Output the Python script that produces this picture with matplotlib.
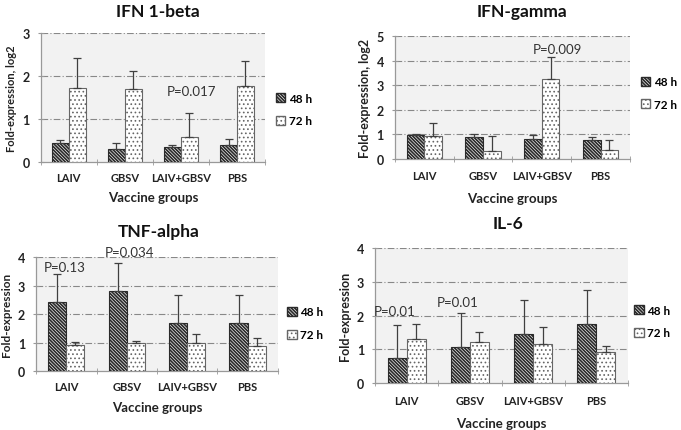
import matplotlib
matplotlib.use("Agg")
import matplotlib.pyplot as plt
import numpy as np
from matplotlib.patches import Patch

plt.rcParams['font.family'] = ['Lato', 'DejaVu Sans']
plt.rcParams['hatch.linewidth'] = 1.25

groups = ["LAIV", "GBSV", "LAIV+GBSV", "PBS"]
series = ["48 h", "72 h"]

# IFN 1-beta
ifnb_48 = [0.44, 0.29, 0.34, 0.40]
ifnb_48_top = [0.52, 0.44, 0.39, 0.54]
ifnb_72 = [1.72, 1.70, 0.59, 1.76]
ifnb_72_top = [2.43, 2.11, 1.15, 2.35]

# IFN-gamma
ifng_48 = [0.97, 0.89, 0.82, 0.75]
ifng_48_top = [1.02, 1.03, 0.99, 0.88]
ifng_72 = [0.93, 0.33, 3.27, 0.38]
ifng_72_top = [1.48, 0.93, 4.15, 0.78]

# TNF-alpha
tnf_48 = [2.43, 2.82, 1.68, 1.68]
tnf_48_top = [3.42, 3.80, 2.68, 2.68]
tnf_72 = [0.92, 1.00, 0.97, 0.88]
tnf_72_top = [1.03, 1.07, 1.30, 1.17]

# IL-6
il6_48 = [0.73, 1.08, 1.45, 1.76]
il6_48_top = [1.73, 2.08, 2.46, 2.76]
il6_72 = [1.30, 1.22, 1.17, 0.92]
il6_72_top = [1.75, 1.51, 1.65, 1.11]

W, H = 681, 431
fig = plt.figure(figsize=(6.81, 4.31), dpi=100)

HATCH48 = "\\" * 10
HATCH72 = "...."


def thin_dots(artists):
    for a in artists:
        try:
            a.set_hatch_linewidth(0.7)
        except AttributeError:
            pass


panels = [
    dict(title="IFN 1-beta", pos=[0.060, 0.622, 0.329, 0.299], ymax=3,
         d48=ifnb_48, t48=ifnb_48_top, d72=ifnb_72, t72=ifnb_72_top,
         ylabel="Fold-expression, log2", ylfs=8,
         ptext=[("P=0.017", 2.18, 1.65)],
         tpos=(158, 12), leg=(1.0, 0.62), xpad=7, xlpad=6),
    dict(title="IFN-gamma", pos=[0.580, 0.629, 0.345, 0.285], ymax=5,
         d48=ifng_48, t48=ifng_48_top, d72=ifng_72, t72=ifng_72_top,
         ylabel="Fold-expression, log2", ylfs=9,
         ptext=[("P=0.009", 2.27, 4.47)],
         tpos=(522, 12), leg=(1.0, 0.76), xpad=8, xlpad=8),
    dict(title="TNF-alpha", pos=[0.053, 0.137, 0.355, 0.264], ymax=4,
         d48=tnf_48, t48=tnf_48_top, d72=tnf_72, t72=tnf_72_top,
         ylabel="Fold-expression", ylfs=8.5,
         ptext=[("P=0.13", -0.03, 3.65), ("P=0.034", 1.04, 4.18)],
         tpos=(159, 232), leg=(0.995, 0.66), xpad=7, xlpad=7),
    dict(title="IL-6", pos=[0.551, 0.109, 0.371, 0.313], ymax=4,
         d48=il6_48, t48=il6_48_top, d72=il6_72, t72=il6_72_top,
         ylabel="Fold-expression", ylfs=9,
         ptext=[("P=0.01", -0.19, 2.13), ("P=0.01", 0.80, 2.40)],
         tpos=(508, 224), leg=(0.984, 0.66), xpad=8.5, xlpad=8),
]

x = np.arange(len(groups))
w = 0.3
for p in panels:
    ax = fig.add_axes(p["pos"])
    ax.set_facecolor("#f2f2f2")
    d48 = np.array(p["d48"]); d72 = np.array(p["d72"])
    e48 = np.array(p["t48"]) - d48
    e72 = np.array(p["t72"]) - d72
    ekw = dict(ecolor="#404040", elinewidth=0.9, capsize=3, capthick=0.9, zorder=4)
    ax.bar(x - w/2, d48, w, color="white", edgecolor="#2a2a2a", hatch=HATCH48,
           linewidth=0.8, zorder=3, yerr=[np.zeros_like(e48), e48], error_kw=ekw)
    b72 = ax.bar(x + w/2, d72, w, color="white", edgecolor="#666666", hatch=HATCH72,
                 linewidth=0.8, zorder=3, yerr=[np.zeros_like(e72), e72], error_kw=ekw)
    thin_dots(b72.patches)
    ax.set_xlim(-0.5, 3.5)
    ax.set_ylim(0, p["ymax"])
    ax.set_yticks(range(0, p["ymax"] + 1))
    ax.set_xticks(x)
    ax.set_xticklabels(groups, fontsize=8, fontweight="bold", color="#222222")
    ax.set_xticks(np.arange(-0.5, 4.0, 1.0), minor=True)
    ax.tick_params(axis="x", which="major", length=0, pad=p["xpad"])
    ax.tick_params(axis="x", which="minor", length=4, direction="inout", color="#999999")
    ax.tick_params(axis="y", length=4, direction="inout", color="#999999", labelsize=9, pad=6)
    for lab in ax.get_yticklabels():
        lab.set_fontweight("bold"); lab.set_color("#222222")
    for yv in range(1, p["ymax"] + 1):
        ax.axhline(yv, color="#888888", lw=0.8, ls=(0, (6, 2, 1, 2)), zorder=1)
    for s in ["top", "right"]:
        ax.spines[s].set_visible(False)
    for s in ["left", "bottom"]:
        ax.spines[s].set_color("#999999")
        ax.spines[s].set_linewidth(0.9)
    ax.set_xlabel("Vaccine groups", fontsize=9.5, fontweight="bold", color="#222222", labelpad=p["xlpad"])
    ax.set_ylabel(p["ylabel"], fontsize=p["ylfs"], fontweight="bold", color="#222222", labelpad=4)
    for txt, tx, ty in p["ptext"]:
        ax.text(tx, ty, txt, fontsize=9.5, color="#333333", ha="center", va="center", zorder=5)
    fig.text(p["tpos"][0] / W, 1 - p["tpos"][1] / H, p["title"], fontsize=12.5,
             fontweight="bold", ha="center", va="center", color="#111111")
    handles = [Patch(facecolor="white", edgecolor="#2a2a2a", hatch=HATCH48, label=series[0]),
               Patch(facecolor="white", edgecolor="#666666", hatch=HATCH72, label=series[1])]
    leg = ax.legend(handles=handles, loc="upper left", bbox_to_anchor=p["leg"], frameon=False,
                    handlelength=0.8, handleheight=0.8, handletextpad=0.3, labelspacing=1.0,
                    prop=dict(size=8.5, weight="bold"))
    thin_dots([leg.legend_handles[1]])

fig.savefig("out.png", dpi=100)
